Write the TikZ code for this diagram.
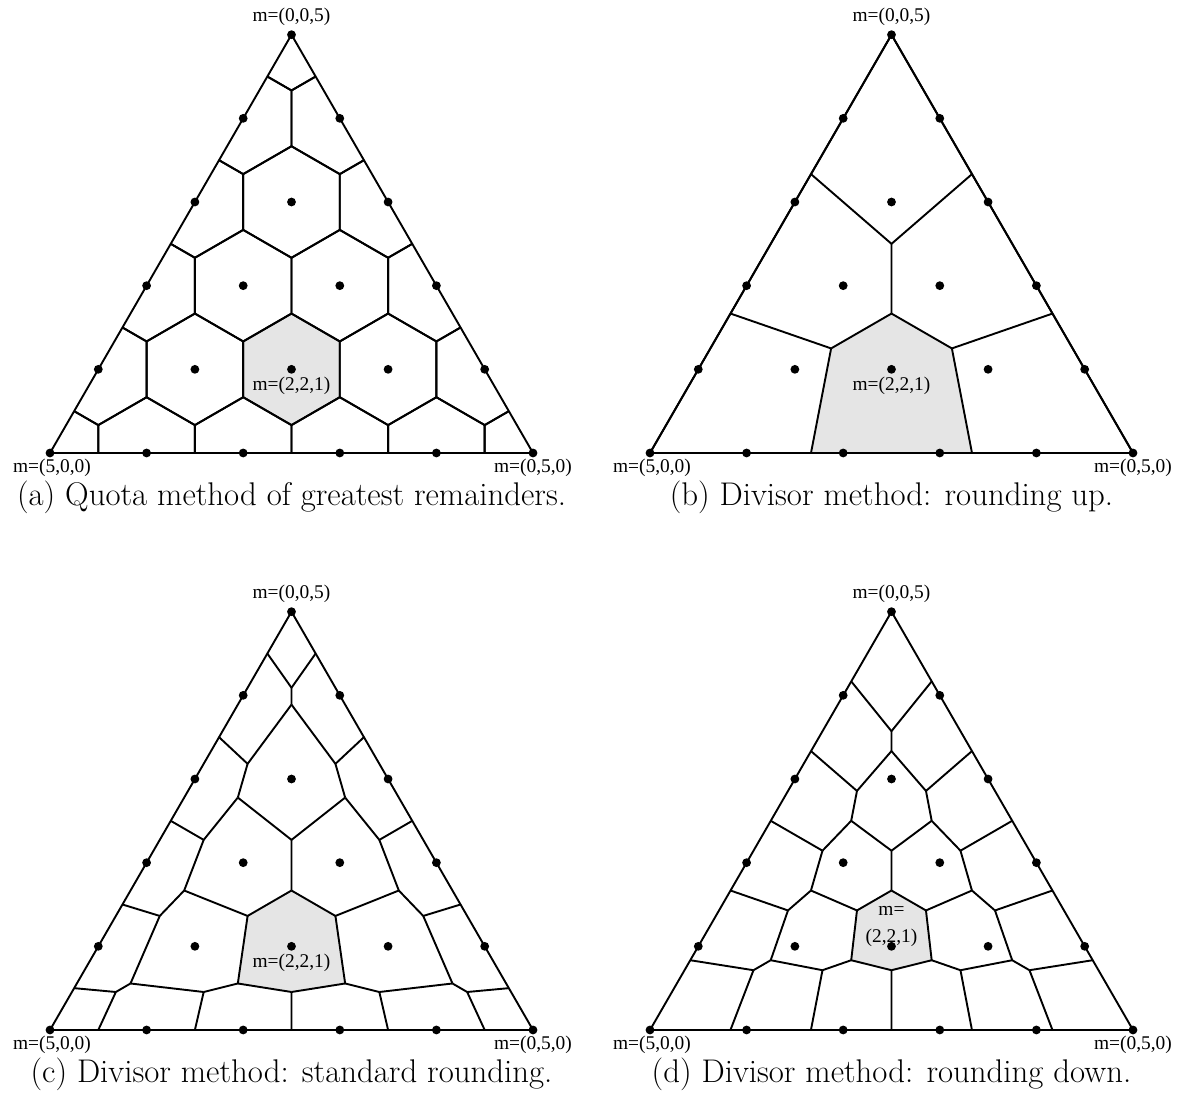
\documentclass[tikz,border=0pt]{standalone}
\usepackage{fontspec}
\newfontfamily\labelfont{Liberation Serif}
\usetikzlibrary{calc}

\tikzset{
  cell/.style={line width=0.95pt, line join=round},
  frame/.style={line width=0.95pt, line join=round},
  region/.style={fill=black!10},
  vertexlabel/.style={font=\labelfont\fontsize{9.7}{11.5}\selectfont, inner sep=0pt, align=center},
  caption/.style={font=\fontsize{16.4}{19.5}\selectfont, inner sep=0pt},
}

% corners of one simplex: #1 prefix, (#2,#3) lower-left corner
\newcommand\setframe[3]{%
  \coordinate (#1A) at (#2,#3);
  \coordinate (#1B) at (#2+483,#3);
  \coordinate (#1C) at (#2+241.5,#3-418.3);
  \coordinate (#1m) at (barycentric cs:#1A=2,#1B=2,#1C=1);
}

\newcommand\drawframe[1]{\draw[frame] (#1A) -- (#1B) -- (#1C) -- cycle;}

% all seat vectors m with m1+m2+m3=5
\newcommand\seatdots[1]{%
  \foreach \mi in {0,...,5}{
    \pgfmathtruncatemacro\jmax{5-\mi}
    \foreach \mj in {0,...,\jmax}{
      \pgfmathtruncatemacro\mk{5-\mi-\mj}
      \fill (barycentric cs:#1A=\mi,#1B=\mj,#1C=\mk) circle[radius=2.2pt];
    }
  }
}

\newcommand\cornerlabels[1]{%
  \node[vertexlabel] (#1top) at ($(#1C)+(0,-18)$) {m=(0,0,5)};
  \node[vertexlabel] (#1left) at ($(#1A)+(2,15)$) {m=(5,0,0)};
  \node[vertexlabel] (#1right) at ($(#1B)+(0,15)$) {m=(0,5,0)};
}

% hexagonal cells of the quota method (greatest remainders)
\newcommand\hexpath{++(30:55.77) -- ++(150:55.77) -- ++(210:55.77) -- ++(270:55.77) -- ++(330:55.77) -- ++(30:55.77) -- cycle}
\newcommand\quotacells[1]{%
  \begin{scope}
    \clip (#1A) -- (#1B) -- (#1C) -- cycle;
    \foreach \mi in {0,...,5}{
      \pgfmathtruncatemacro\jmax{5-\mi}
      \foreach \mj in {0,...,\jmax}{
        \pgfmathtruncatemacro\mk{5-\mi-\mj}
        \draw[cell] (barycentric cs:#1A=\mi,#1B=\mj,#1C=\mk) \hexpath;
      }
    }
  \end{scope}
}

% cells of a divisor method with signposts s(n)=max(n-#2,0)
\newcommand\divisorcells[2]{%
  \foreach \p in {1,...,5}{
    \pgfmathtruncatemacro\qmax{6-\p}
    \foreach \q in {1,...,\qmax}{
      \pgfmathsetmacro\sP{max(\p-#2,0)}
      \pgfmathsetmacro\sQ{max(\q-#2,0)}
      \pgfmathsetmacro\sR{max(7-\p-\q-#2,0)}
      \pgfmathsetmacro\sS{max(6-\p-\q-#2,0)}
      \draw[cell] (barycentric cs:#1A=\sP,#1B=\sQ,#1C=\sR) -- (barycentric cs:#1A=\sP,#1B=\sQ,#1C=\sS);
      \draw[cell] (barycentric cs:#1B=\sP,#1C=\sQ,#1A=\sR) -- (barycentric cs:#1B=\sP,#1C=\sQ,#1A=\sS);
      \draw[cell] (barycentric cs:#1A=\sP,#1C=\sQ,#1B=\sR) -- (barycentric cs:#1A=\sP,#1C=\sQ,#1B=\sS);
    }
  }
}

% shaded cell of m=(2,2,1) for a divisor method
\newcommand\divisorregion[2]{%
  \pgfmathsetmacro\sgOne{max(1-#2,0)}
  \pgfmathsetmacro\sgTwo{max(2-#2,0)}
  \pgfmathsetmacro\sgThree{max(3-#2,0)}
  \fill[region] (barycentric cs:#1A=\sgThree,#1B=\sgTwo,#1C=\sgTwo)
    -- (barycentric cs:#1A=\sgTwo,#1B=\sgTwo,#1C=\sgTwo)
    -- (barycentric cs:#1A=\sgTwo,#1B=\sgThree,#1C=\sgTwo)
    -- (barycentric cs:#1A=\sgTwo,#1B=\sgThree,#1C=\sgOne)
    -- (barycentric cs:#1A=\sgThree,#1B=\sgThree,#1C=\sgOne)
    -- (barycentric cs:#1A=\sgThree,#1B=\sgTwo,#1C=\sgOne) -- cycle;
}

\begin{document}
\begin{tikzpicture}[x=0.5pt,y=-0.5pt]
\useasboundingbox (0,0) rectangle (1184,1111);

% (a) greatest remainders
\setframe{a}{50}{453}
\fill[region] (am) \hexpath;
\quotacells{a}
\drawframe{a}
\seatdots{a}
\cornerlabels{a}
\node[vertexlabel] (alab) at ($(am)+(0,17)$) {m=(2,2,1)};
\node[caption] (acap) at ($(aA)+(241.5,44)$) {(a) Quota method of greatest remainders.};

% (b) rounding up
\setframe{b}{650}{453}
\divisorregion{b}{1}
\divisorcells{b}{1}
\drawframe{b}
\seatdots{b}
\cornerlabels{b}
\node[vertexlabel] (blab) at ($(bm)+(0,17)$) {m=(2,2,1)};
\node[caption] (bcap) at ($(bA)+(241.5,44)$) {(b) Divisor method: rounding up.};

% (c) standard rounding
\setframe{c}{50}{1030}
\divisorregion{c}{0.5}
\divisorcells{c}{0.5}
\drawframe{c}
\seatdots{c}
\cornerlabels{c}
\node[vertexlabel] (clab) at ($(cm)+(0,17)$) {m=(2,2,1)};
\node[caption] (ccap) at ($(cA)+(241.5,44)$) {(c) Divisor method: standard rounding.};

% (d) rounding down
\setframe{d}{650}{1030}
\divisorregion{d}{0}
\divisorcells{d}{0}
\drawframe{d}
\seatdots{d}
\cornerlabels{d}
\node[vertexlabel] (dlab) at ($(dm)+(0,-20)$) {m=\\[2pt](2,2,1)};
\node[caption] (dcap) at ($(dA)+(241.5,44)$) {(d) Divisor method: rounding down.};
\end{tikzpicture}
\end{document}
